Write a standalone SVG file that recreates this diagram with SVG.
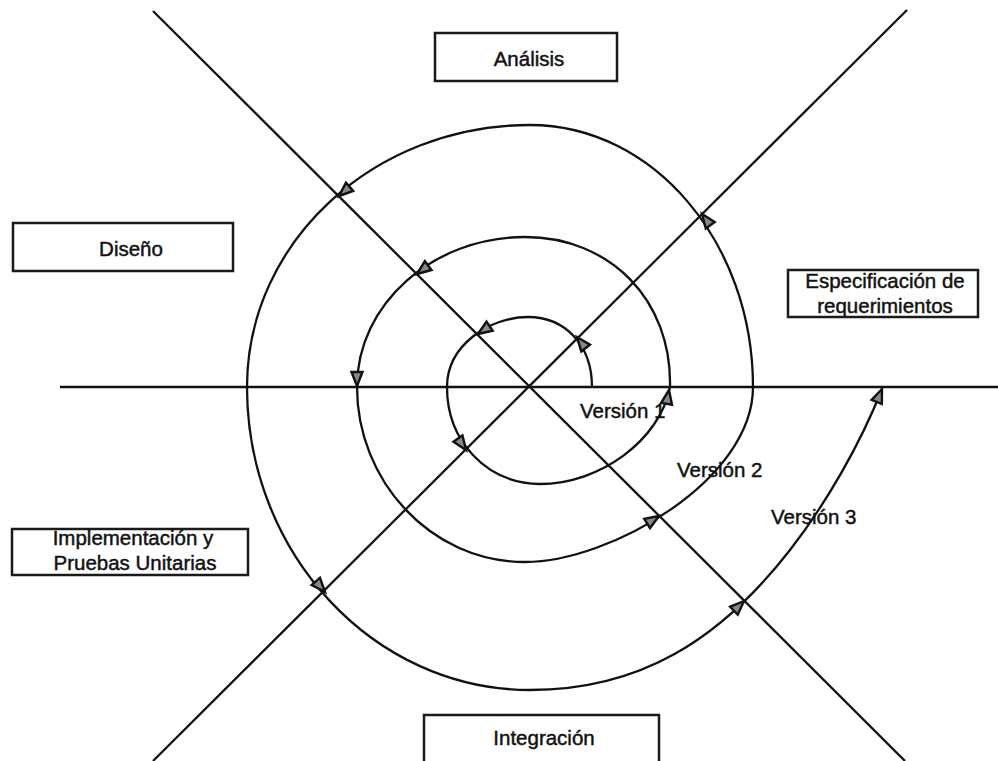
<svg xmlns="http://www.w3.org/2000/svg" xmlns:xlink="http://www.w3.org/1999/xlink" width="998" height="761" viewBox="0 0 998 761">
  <style>
    .axis { stroke: #111; stroke-width: 2.3; fill: none; }
    .spiral { stroke: #111; stroke-width: 2.3; fill: none; }
    .box rect { fill: #fff; stroke: #1a1a1a; stroke-width: 2.5; }
    .lbl { font-family: "Liberation Sans", Arial, sans-serif; font-size: 20.5px; fill: #111; stroke: #111; stroke-width: 0.45; }
    .mid { text-anchor: middle; }
  </style>
  <defs>
    <!-- arrowhead pointing along +x, tip at the origin -->
    <path id="ah" d="M0,0 L-14,-5.5 L-14,5.5 Z" fill="#888" stroke="#111" stroke-width="2.4" stroke-linejoin="miter"/>
  </defs>

  <rect width="998" height="761" fill="#fff"/>

  <!-- quadrant axes -->
  <g id="axes">
    <line class="axis" x1="153" y1="11" x2="905" y2="761"/>
    <line class="axis" x1="907" y1="10" x2="153" y2="761"/>
    <line class="axis" x1="60" y1="387" x2="998" y2="387"/>
  </g>

  <!-- spiral of versions with its arrowheads -->
  <g id="connectors">
    <path class="spiral" d="M592,387 C592,345 565,317 528,317 C490,317 447,345 447,387 C447,440 485,483 540,484 C600,484 660,440 670,387 C672,300 610,237 525,237 C433,237 357,304 357,387 C357,480 430,562 525,562 C610,562 753,480 753,387 C753,242 653,125 530,125 C374,125 247,242 247,387 C247,554 374,690 530,690 C640,690 720,640 790,550 C825,505 860,445 882,389"/>
    <use xlink:href="#ah" transform="translate(577,337) rotate(-128)"/>
    <use xlink:href="#ah" transform="translate(478,334) rotate(146)"/>
    <use xlink:href="#ah" transform="translate(466,450) rotate(55)"/>
    <use xlink:href="#ah" transform="translate(669,390) rotate(-80)"/>
    <use xlink:href="#ah" transform="translate(417,274) rotate(143)"/>
    <use xlink:href="#ah" transform="translate(357,386) rotate(90)"/>
    <use xlink:href="#ah" transform="translate(659,516) rotate(-32)"/>
    <use xlink:href="#ah" transform="translate(702,214) rotate(-126)"/>
    <use xlink:href="#ah" transform="translate(339,196) rotate(139)"/>
    <use xlink:href="#ah" transform="translate(325,592) rotate(49)"/>
    <use xlink:href="#ah" transform="translate(744,601) rotate(-44)"/>
    <use xlink:href="#ah" transform="translate(882,389) rotate(-68)"/>
  </g>

  <!-- version labels -->
  <g id="versions">
    <text class="lbl" x="580" y="418">Versión 1</text>
    <text class="lbl" x="677" y="477">Versión 2</text>
    <text class="lbl" x="771" y="524">Versión 3</text>
  </g>

  <!-- phase boxes -->
  <g id="analisis" class="box">
    <rect x="435" y="33" width="182" height="48"/>
    <text class="lbl mid" x="529" y="66">Análisis</text>
  </g>
  <g id="diseno" class="box">
    <rect x="13" y="223" width="220" height="48"/>
    <text class="lbl mid" x="131" y="256">Diseño</text>
  </g>
  <g id="especificacion" class="box">
    <rect x="788" y="270" width="190" height="47"/>
    <text class="lbl mid" x="885" y="288">Especificación de</text>
    <text class="lbl mid" x="885" y="313">requerimientos</text>
  </g>
  <g id="implementacion" class="box">
    <rect x="12" y="529" width="236" height="46"/>
    <text class="lbl mid" x="133" y="545">Implementación y</text>
    <text class="lbl mid" x="135" y="570">Pruebas Unitarias</text>
  </g>
  <g id="integracion" class="box">
    <rect x="424" y="715" width="235" height="60"/>
    <text class="lbl mid" x="544" y="745">Integración</text>
  </g>
</svg>
